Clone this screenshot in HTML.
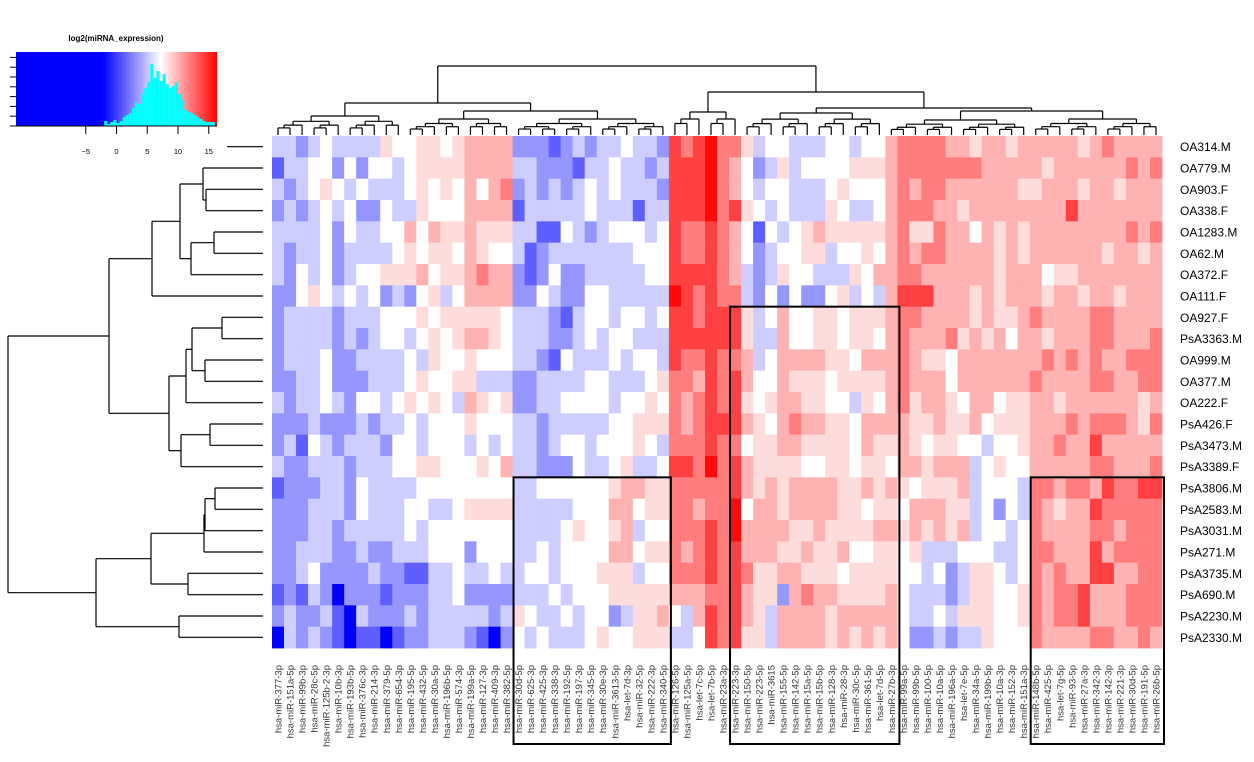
<!DOCTYPE html>
<html><head><meta charset="utf-8">
<style>
html,body{margin:0;padding:0;background:#fff;}
svg{display:block;font-family:"Liberation Sans",sans-serif;}
</style></head>
<body>
<svg id="chart" width="1254" height="762" viewBox="0 0 1254 762" xmlns="http://www.w3.org/2000/svg">
<defs>
<linearGradient id="keygrad" x1="0" x2="1" y1="0" y2="0">
<stop offset="0" stop-color="#0000ff"/>
<stop offset="0.43" stop-color="#0000ff"/>
<stop offset="0.72" stop-color="#ffffff"/>
<stop offset="1" stop-color="#ff0000"/>
</linearGradient>
</defs>
<g id="key">
<text x="116" y="41" font-size="8" font-weight="bold" text-anchor="middle" fill="#000">log2(miRNA_expression)</text>
<rect x="16" y="52" width="201" height="74" fill="url(#keygrad)"/>
<g id="hist"></g>
<line x1="16" y1="126" x2="217" y2="126" stroke="#000" stroke-width="1"/>
<g id="keyaxis"></g>
</g>
<g id="coldendro"></g>
<g id="rowdendro"></g>
<g id="cells"></g>
<g id="rowlabels"></g>
<g id="collabels"></g>
<g id="boxes"></g>
</svg>
<script>
// ---- data ----
const rowNames = ["OA314.M","OA779.M","OA903.F","OA338.F","OA1283.M","OA62.M","OA372.F","OA111.F","OA927.F","PsA3363.M","OA999.M","OA377.M","OA222.F","PsA426.F","PsA3473.M","PsA3389.F","PsA3806.M","PsA2583.M","PsA3031.M","PsA271.M","PsA3735.M","PsA690.M","PsA2230.M","PsA2330.M"];
const colNames = ["hsa-miR-377-3p","hsa-miR-151a-5p","hsa-miR-99b-3p","hsa-miR-28c-5p","hsa-miR-125b-2-3p","hsa-miR-10b-3p","hsa-miR-193b-5p","hsa-miR-376c-3p","hsa-miR-214-3p","hsa-miR-379-5p","hsa-miR-654-3p","hsa-miR-195-5p","hsa-miR-432-5p","hsa-miR-30a-5p","hsa-miR-196b-5p","hsa-miR-574-3p","hsa-miR-199a-5p","hsa-miR-127-3p","hsa-miR-409-3p","hsa-miR-382-5p","hsa-miR-30d-5p","hsa-miR-625-3p","hsa-miR-425-3p","hsa-miR-338-3p","hsa-miR-192-5p","hsa-miR-197-3p","hsa-miR-345-5p","hsa-miR-30e-3p","hsa-miR-3613-5p","hsa-let-7d-3p","hsa-miR-32-5p","hsa-miR-222-3p","hsa-miR-340-5p","hsa-miR-126-5p","hsa-miR-125a-5p","hsa-let-7c-5p","hsa-let-7b-5p","hsa-miR-23a-3p","hsa-miR-223-3p","hsa-miR-150-5p","hsa-miR-223-5p","hsa-miR-3615","hsa-miR-155-5p","hsa-miR-142-5p","hsa-miR-15a-5p","hsa-miR-15b-5p","hsa-miR-128-3p","hsa-miR-28-3p","hsa-miR-30c-5p","hsa-miR-361-5p","hsa-let-7d-5p","hsa-miR-27b-3p","hsa-miR-99a-5p","hsa-miR-99b-5p","hsa-miR-100-5p","hsa-miR-10a-5p","hsa-miR-196a-5p","hsa-let-7e-5p","hsa-miR-34a-5p","hsa-miR-199b-5p","hsa-miR-10a-3p","hsa-miR-152-3p","hsa-miR-151a-3p","hsa-miR-148b-5p","hsa-miR-425-5p","hsa-let-7g-5p","hsa-miR-93-5p","hsa-miR-27a-3p","hsa-miR-342-3p","hsa-miR-142-3p","hsa-miR-221-3p","hsa-miR-30d-5p","hsa-miR-191-5p","hsa-miR-26b-5p"];
// level 0 = deep blue, 4 = white, 9 = red
const cellLevels = [
"33234333354455456666"+"2221232334332"+"8789"+"77"+"5344333443446"+"7"+"7776656656"+"66665676666",
"13344242443455556666"+"3322213343323"+"8889"+"76"+"4235344445556"+"7"+"7777776666"+"65666666767",
"32345434333454546467"+"2323234343332"+"8889"+"76"+"4344333454446"+"7"+"6776666665"+"56665665666",
"23234342243354446666"+"1333334333133"+"8889"+"78"+"5434333543346"+"7"+"7766566666"+"66686666666",
"33334243344646556555"+"3311432344434"+"8778"+"76"+"4143456555556"+"7"+"5576646565"+"66666666767",
"32334233334545546544"+"3123333333444"+"8778"+"76"+"4234455344546"+"7"+"6776666565"+"66666656656",
"32434234455564556766"+"2124223333344"+"8888"+"76"+"3235443335466"+"7"+"7666666566"+"64556666666",
"22454343423245346666"+"2243224433333"+"9878"+"77"+"3242422453436"+"8"+"8866656566"+"65665665666",
"23333233344454555554"+"3332134434434"+"8878"+"88"+"5346445545556"+"7"+"7666656556"+"76666776666",
"23333232344345456654"+"3332234344333"+"8888"+"88"+"5336445545546"+"7"+"6667565646"+"65666776667",
"23334223333435445444"+"3321433343443"+"8778"+"77"+"6346666554666"+"7"+"6554666666"+"67676766777",
"22334222333454455333"+"2233334433345"+"7768"+"78"+"6446555455556"+"7"+"6664666666"+"76666776677",
"32334324434545436545"+"2233444434454"+"7678"+"78"+"5456655443546"+"7"+"5665466455"+"66566666656",
"22232223233434445444"+"3323333344555"+"7678"+"88"+"6546766554666"+"6"+"5565564555"+"66676777657",
"23143233324434443434"+"3323443444543"+"7778"+"77"+"4556655554655"+"6"+"5455443445"+"66766866666",
"32233323334455444546"+"3322243345334"+"8879"+"78"+"6555544554554"+"6"+"6566634544"+"66666776667",
"12223324333344444444"+"3344444456655"+"7777"+"78"+"6565666655656"+"5"+"4555634443"+"77677687788",
"22233324333443345555"+"3333344466455"+"7767"+"79"+"4665666655455"+"4"+"6665534243"+"76566877777",
"22233233333434444444"+"3333454456344"+"7778"+"79"+"6666556555566"+"5"+"6565634434"+"76666776777",
"22333223223334442444"+"3343444466455"+"7678"+"78"+"6665565564455"+"4"+"5333444334"+"77666867777",
"22342222322113343343"+"3443444555344"+"7778"+"78"+"7556655545555"+"4"+"4342355434"+"76766886677",
"12132022212223342222"+"3334344455555"+"6667"+"78"+"6552676655556"+"4"+"3332355445"+"76778666777",
"23223103222323333323"+"5433434423556"+"4368"+"78"+"6536666566666"+"4"+"3343555445"+"76778666777",
"03232101101223332102"+"4343334544555"+"3348"+"78"+"5536666565656"+"4"+"2232335444"+"76666776676"
];
// color-key histogram: bin start values and counts (px height)
const histBins = [-2,-1.5,-1,-0.5,0,0.5,1,1.5,2,2.5,3,3.5,4,4.5,5,5.5,6,6.5,7,7.5,8,8.5,9,9.5,10,10.5,11,11.5,12,12.5,13,13.5,14,14.5,15,15.5];
const histCounts = [5,2,4,6,3,5,9,11,13,18,24,22,32,38,44,62,48,55,45,52,42,38,40,44,32,26,16,14,13,11,9,7,5,4,4,4];
const keyTicks = [-5,0,5,10,15];
// row dendrogram: [height(px from leaves), children] ; leaf = integer
const rowTree = [255,[[154,[[111,[[83,[[60,[1,[57,[2,3]]]],[72,[[49,[4,5]],6]]]],7]],[94,[[77,[[71,[[41,[8,9]],[58,[10,11]]]],12]],[82,[[53,[13,14]],15]]]]]],[167,[[112,[[59,[[58,[[48,[16,17]],18]],19]],[75,[20,21]]]],[84,[22,23]]]]]];
// column dendrogram heights (px above heatmap)
const colTree = [69,[[32,[[19,{lo:0,hi:10}],[24,[[16,{lo:11,hi:19}],[16,{lo:20,hi:32}]]]]],[43,[[23,[[16,{lo:33,hi:35}],[16,{lo:36,hi:38}]]],[27,[[22,{lo:39,hi:50}],[24,[[15,{lo:51,hi:62}],[16,{lo:63,hi:73}]]]]]]]]];
const boxes = [{c0:20,c1:32,r0:16},{c0:38,c1:51,r0:8},{c0:63,c1:73,r0:16}];

// ---- layout ----
const X0=272, X1=1162, Y0=136, Y1=648;
const cw=(X1-X0)/colNames.length, rh=(Y1-Y0)/rowNames.length;
const xCol=c=>X0+c*cw, yRow=r=>Y0+r*rh;
const NS="http://www.w3.org/2000/svg";
function mk(tag,attrs,parent){const e=document.createElementNS(NS,tag);for(const k in attrs)e.setAttribute(k,attrs[k]);parent.appendChild(e);return e;}
const palette=["rgb(0,0,255)","rgb(95,95,255)","rgb(150,150,255)","rgb(205,205,255)","rgb(255,255,255)","rgb(255,220,220)","rgb(255,178,178)","rgb(255,125,125)","rgb(255,65,65)","rgb(255,10,10)"];
function color(v){return palette[Math.max(0,Math.min(9,Math.round(v)))];}
// cells
const gc=document.getElementById('cells');
cellLevels.forEach((row,r)=>{
  for(let c=0;c<row.length;c++){
    const e=mk('rect',{x:xCol(c).toFixed(2),y:yRow(r).toFixed(2),width:(cw+0.4).toFixed(2),height:(rh+0.4).toFixed(2),fill:color(+row[c])},gc);
    
    
  }
});
// row labels
const gr=document.getElementById('rowlabels');
rowNames.forEach((n,r)=>{
  const t=mk('text',{x:1180,y:(yRow(r)+rh/2+4.5).toFixed(1),'font-size':12,fill:'#000'},gr);
  t.textContent=n;
  
  
});
// column labels
const gl=document.getElementById('collabels');
colNames.forEach((n,c)=>{
  const x=xCol(c)+cw/2+3.5, y=665;
  const t=mk('text',{x:x.toFixed(1),y:y,'font-size':9.5,fill:'#333','text-anchor':'end',transform:`rotate(-90 ${x.toFixed(1)} ${y})`},gl);
  t.textContent=n;
  
  
});
// boxes
const gb=document.getElementById('boxes');
boxes.forEach(b=>{
  const e=mk('rect',{x:xCol(b.c0)+1,y:yRow(b.r0),width:xCol(b.c1+1)-xCol(b.c0)+1,height:744-yRow(b.r0),fill:'none',stroke:'#000','stroke-width':2},gb);
  
  
});
// row dendrogram
const gd=document.getElementById('rowdendro');
const RX=263;
function line(g,x1,y1,x2,y2){mk('line',{x1,y1,x2,y2,stroke:'#000','stroke-width':1.2},g);}
function drawRow(node){
  if(typeof node==='number'){return {y:yRow(node)+rh/2,x:RX};}
  const h=node[0];const x=RX-h;
  const kids=node[1].map(drawRow);
  kids.forEach(k=>line(gd,x,k.y,k.x,k.y));
  const ys=kids.map(k=>k.y);
  line(gd,x,Math.min(...ys),x,Math.max(...ys));
  return {y:ys.reduce((a,b)=>a+b,0)/ys.length,x};
}
drawRow(rowTree);
line(gd,227,yRow(0)+rh/2,RX,yRow(0)+rh/2);
// column dendrogram
const gcd=document.getElementById('coldendro');
const CY=135;
function autoCol(lo,hi,h){
  if(lo===hi)return lo;
  const mid=Math.floor((lo+hi)/2);
  return [h,[autoCol(lo,mid,h*0.72),autoCol(mid+1,hi,h*0.72)]];
}
function drawCol(node){
  if(typeof node==='number'){return {x:xCol(node)+cw/2,y:CY};}
  let h=node[0], kids=node[1];
  if(!Array.isArray(kids)){const a=autoCol(kids.lo,kids.hi,h);if(typeof a==='number')return drawCol(a);kids=a[1];}
  const y=CY-h;
  const ks=kids.map(drawCol);
  ks.forEach(k=>mk('line',{x1:k.x,y1:y,x2:k.x,y2:k.y,stroke:'#000','stroke-width':1.2},gcd));
  const xs=ks.map(k=>k.x);
  mk('line',{x1:Math.min(...xs),y1:y,x2:Math.max(...xs),y2:y,stroke:'#000','stroke-width':1.2},gcd);
  return {x:(Math.min(...xs)+Math.max(...xs))/2,y};
}
drawCol(colTree);
// key histogram & axis
const kx=v=>116.5+v*6.15;
const gh=document.getElementById('hist');
histBins.forEach((b,i)=>{
  const e=mk('rect',{x:kx(b).toFixed(1),y:(126-histCounts[i]).toFixed(1),width:3.1,height:histCounts[i],fill:'#00ffff'},gh);
  
  
});
const ga=document.getElementById('keyaxis');
keyTicks.forEach(t=>{
  mk('line',{x1:kx(t),y1:126,x2:kx(t),y2:134,stroke:'#000','stroke-width':1},ga);
  const tx=mk('text',{x:kx(t),y:154,'font-size':7.5,'text-anchor':'middle',fill:'#000'},ga);
  tx.textContent=String(t).replace('-','\u2212');
  
  
});
for(let i=0;i<8;i++){const y=126-i*9.8;mk('line',{x1:10,y1:y,x2:16,y2:y,stroke:'#000','stroke-width':1},ga);}
</script>
</body></html>
